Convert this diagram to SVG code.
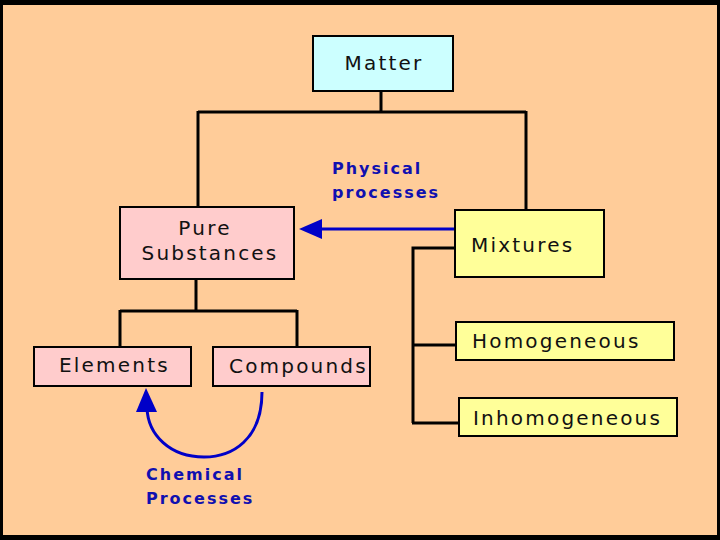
<svg xmlns="http://www.w3.org/2000/svg" width="720" height="540" viewBox="0 0 720 540">
<style>
.box{stroke:#000;stroke-width:2}
.t{font-family:"DejaVu Sans",sans-serif;font-size:20px;letter-spacing:2.2px;fill:#111}
.b{font-family:"DejaVu Sans",sans-serif;font-weight:bold;font-size:16px;letter-spacing:2px;fill:#1010B0}
.ln{stroke:#000;stroke-width:3;fill:none}
.bl{stroke:#0000C8;stroke-width:3;fill:none}
</style>
<defs>
<marker id="ah" viewBox="0 0 10 10" refX="9" refY="5" markerWidth="7" markerHeight="7" markerUnits="userSpaceOnUse" orient="auto">
<path d="M0,0 L10,5 L0,10 z" fill="#0000C8"/>
</marker>
</defs>
<rect x="0" y="0" width="720" height="540" fill="#000"/>
<rect x="3" y="5" width="714" height="530" fill="#FFCC99"/>
<g id="connectors">
<path class="ln" d="M381,91 V112 M198,112 H526 M198,111 V207 M526,111 V210"/>
<path class="ln" d="M196,279 V311 M120,311 H297 M120,310 V347 M297,310 V347"/>
<path class="ln" d="M455,248 H413 V423 M412,345 H456 M412,423 H459"/>
<path class="bl" d="M455,229 H320"/>
<path d="M299,229 L322,219 L322,239 z" fill="#0000C8"/>
<path class="bl" d="M262,392 C262,440 232,457 204,457 C170,457 148,435 147,408"/>
<path d="M146,388 L136,412 L157,412 z" fill="#0000C8"/>
</g>
<g id="matter">
<rect class="box" x="313" y="36" width="140" height="55" fill="#CCFFFF"/>
<text class="t" x="384" y="70" text-anchor="middle">Matter</text>
</g>
<g id="pure">
<rect class="box" x="120" y="207" width="174" height="72" fill="#FFCCCC"/>
<text class="t" x="205" y="235" text-anchor="middle">Pure</text>
<text class="t" x="210" y="260" text-anchor="middle">Substances</text>
</g>
<g id="mixtures">
<rect class="box" x="455" y="210" width="149" height="67" fill="#FFFF99"/>
<text class="t" x="471" y="252">Mixtures</text>
</g>
<g id="elements">
<rect class="box" x="34" y="347" width="157" height="39" fill="#FFCCCC"/>
<text class="t" x="59" y="372">Elements</text>
</g>
<g id="compounds">
<rect class="box" x="213" y="347" width="157" height="39" fill="#FFCCCC"/>
<text class="t" x="229" y="373">Compounds</text>
</g>
<g id="homogeneous">
<rect class="box" x="456" y="322" width="218" height="38" fill="#FFFF99"/>
<text class="t" x="472" y="348">Homogeneous</text>
</g>
<g id="inhomogeneous">
<rect class="box" x="459" y="398" width="218" height="38" fill="#FFFF99"/>
<text class="t" x="473" y="425">Inhomogeneous</text>
</g>
<g id="labels">
<text class="b" x="332" y="174">Physical</text>
<text class="b" x="332" y="198">processes</text>
<text class="b" x="146" y="480">Chemical</text>
<text class="b" x="146" y="504">Processes</text>
</g>
</svg>
